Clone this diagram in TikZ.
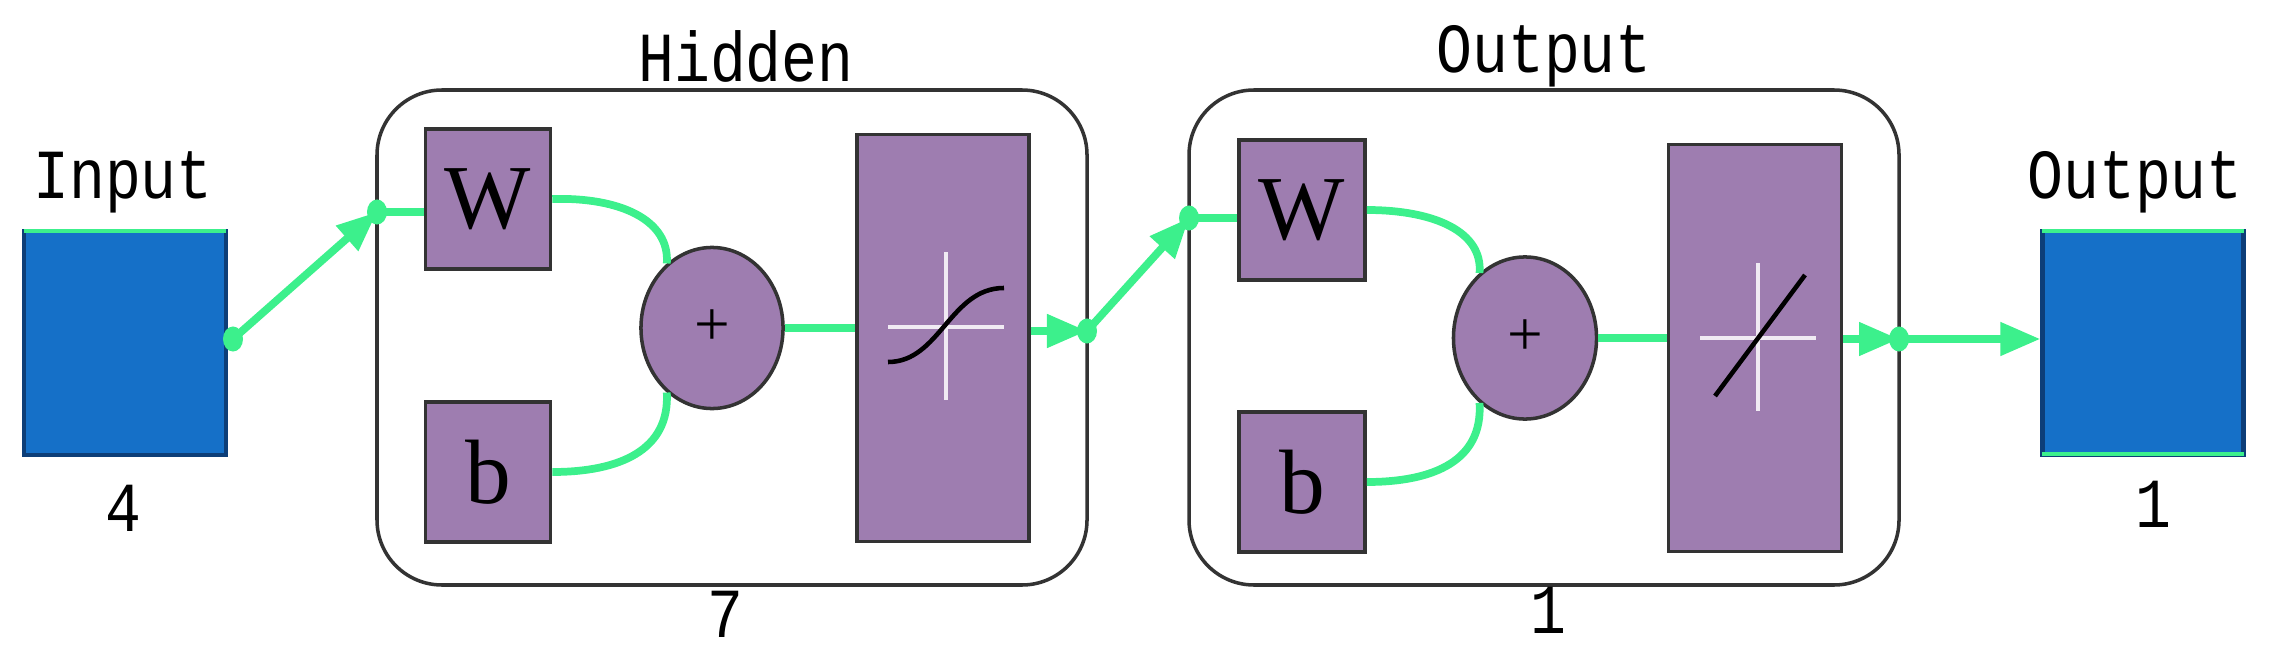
\documentclass[tikz,border=0pt]{standalone}
\usepackage{fontspec}
\setmainfont{Liberation Serif}
\newfontfamily\lblfont{Liberation Mono}
\usetikzlibrary{shapes.geometric,arrows.meta}
\definecolor{gr}{HTML}{3CF08C}
\definecolor{pu}{HTML}{9E7DB0}
\definecolor{bl}{HTML}{1570C8}
\definecolor{dbl}{HTML}{0D3E78}
\tikzset{
 pbox/.style={draw=black!80,fill=pu,line width=1pt,inner sep=0pt,font=\fontsize{26}{26}\selectfont},
 blbox/.style={draw=dbl,fill=bl,line width=1.2pt,inner sep=0pt,minimum width=2.02cm,minimum height=2.24cm},
 cont/.style={draw=black!80,line width=1pt,rounded corners=0.65cm},
 lbl/.style={font=\lblfont\fontsize{20}{20}\selectfont,inner sep=0pt,xscale=0.85},
 num/.style={font=\lblfont\fontsize{20}{20}\selectfont,inner sep=0pt,xscale=0.85},
 gw/.style={draw=gr,line width=2.2pt},
 garr/.style={gw,-{Triangle[length=0.4cm,width=0.32cm]}},
 dot/.style={ellipse,fill=gr,inner sep=0pt,minimum width=0.2cm,minimum height=0.25cm},
 cross/.style={draw=white!85!pu,line width=1.2pt},
}
\begin{document}
\begin{tikzpicture}[x=0.01cm,y=-0.01cm]
\useasboundingbox (0,0) rectangle (2270,664);
% input
\node[blbox] (in) at (125,343) {};
\draw[gr,line width=1.2pt] ([xshift=0.02cm,yshift=-0.02cm]in.north west) -- ([xshift=-0.02cm,yshift=-0.02cm]in.north east);
\node[lbl] (inl) at (123,182) {Input};
\node[num] (inn) at (123,508) {4};
% hidden container
\draw[cont] (377,90) rectangle (1087,585);
\node[lbl] (hl) at (746,56) {Hidden};
\node[num] (hn) at (725,614) {7};
\node[pbox,minimum width=1.25cm,minimum height=1.40cm] (w1) at (488,199) {W};
\node[pbox,minimum width=1.25cm,minimum height=1.40cm] (b1) at (488,472) {b};
\node[pbox,ellipse,minimum width=1.42cm,minimum height=1.61cm,font=\fontsize{18}{18}\selectfont] (s1) at (712,328) {+};
\node[pbox,minimum width=1.72cm,minimum height=4.07cm] (f1) at (943,338) {};
\draw[cross] (888,327) -- (1004,327) (946,252) -- (946,400);
\draw[black,line width=1.3pt] (888,362) .. controls (940,362) and (950,288) .. (1004,288);
% output container
\draw[cont] (1189,90) rectangle (1899,585);
\node[lbl] (ol) at (1544,56) {Output};
\node[num] (on) at (1548,610) {1};
\node[pbox,minimum width=1.26cm,minimum height=1.40cm] (w2) at (1302,210) {W};
\node[pbox,minimum width=1.26cm,minimum height=1.40cm] (b2) at (1302,482) {b};
\node[pbox,ellipse,minimum width=1.43cm,minimum height=1.62cm,font=\fontsize{18}{18}\selectfont] (s2) at (1525,338) {+};
\node[pbox,minimum width=1.73cm,minimum height=4.07cm] (f2) at (1755,348) {};
\draw[cross] (1700,338) -- (1816,338) (1758,263) -- (1758,411);
\draw[black,line width=1.3pt] (1715,396) -- (1805,275);
% output box
\node[blbox,minimum width=2.01cm] (out) at (2143,343) {};
\draw[gr,line width=1.2pt] ([xshift=0.02cm,yshift=-0.02cm]out.north west) -- ([xshift=-0.02cm,yshift=-0.02cm]out.north east);
\draw[gr,line width=1.2pt] ([xshift=0.02cm,yshift=0.03cm]out.south west) -- ([xshift=-0.02cm,yshift=0.03cm]out.south east);
\node[lbl] (outl) at (2135,182) {Output};
\node[num] (outn) at (2153,504) {1};
% dots
\node[dot] (d0) at (233,339) {};
\node[dot] (d1) at (377,212) {};
\node[dot] (d2) at (1087,331) {};
\node[dot] (d3) at (1189,218) {};
\node[dot] (d4) at (1899,339) {};
% connectors
\draw[garr] (d0.center) -- (d1.center);
\draw[gw] (d1.center) -- (w1.west |- d1);
\draw[gw] (w1.east) .. controls (620,197) and (670,220) .. (s1.125);
\draw[gw] (b1.east) .. controls (620,472) and (670,450) .. (s1.235);
\draw[gw] (s1.east) -- (f1.west |- s1.east);
\draw[garr] (f1.east |- d2) -- (d2.center);
\draw[garr] (d2.center) -- (d3.center);
\draw[gw] (d3.center) -- (w2.west |- d3);
\draw[gw] (w2.east) .. controls (1435,210) and (1483,232) .. (s2.125);
\draw[gw] (b2.east) .. controls (1435,482) and (1483,460) .. (s2.235);
\draw[gw] (s2.east) -- (f2.west |- s2.east);
\draw[garr] (f2.east |- d4) -- (d4.center);
\draw[garr] (d4.center) -- (out.west |- d4);
\end{tikzpicture}
\end{document}
